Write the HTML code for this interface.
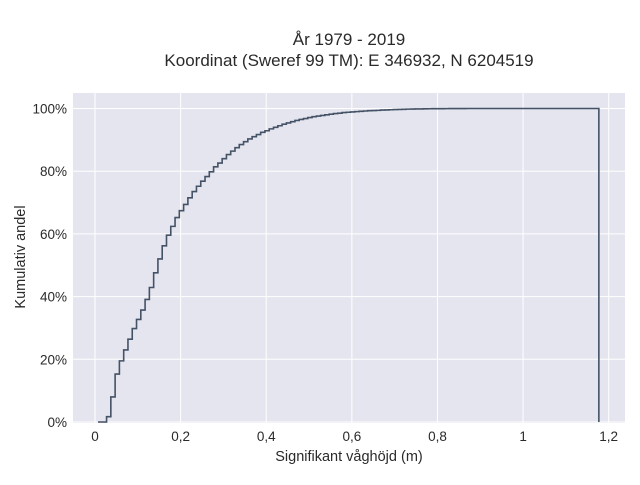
<!DOCTYPE html>
<html><head><meta charset="utf-8"><style>
body{margin:0;background:#fff;font-family:"Liberation Sans",sans-serif;}
svg text{font-family:"Liberation Sans",sans-serif;fill:#2a2a2a;}
</style></head><body>
<svg width="640" height="480" xmlns="http://www.w3.org/2000/svg">
<text x="349" y="45" text-anchor="middle" font-size="17">År 1979 - 2019</text>
<text x="349" y="66" text-anchor="middle" font-size="17">Koordinat (Sweref 99 TM): E 346932, N 6204519</text>
<rect x="73" y="93" width="552" height="330" fill="#e5e5ef"/>
<g id="grid"></g>
<g id="ticks"></g>
<path id="cdf" fill="none" stroke="#445266" stroke-width="1.6"/>
<text x="349" y="461" text-anchor="middle" font-size="14.5">Signifikant våghöjd (m)</text>
<text transform="translate(25,257) rotate(-90)" text-anchor="middle" font-size="14.5">Kumulativ andel</text>
</svg>
<script>
const binStart = 0.007;
const binWidth = 0.01;
const cumValues = [0,0,1.7,8,15.3,19.5,23,26.4,29.8,32.7,35.7,39.1,42.9,47.6,52,56.2,59.6,62.4,65.2,67.4,69.4,71.5,73.5,75.2,76.8,78.3,79.8,81.4,82.6,84,85.3,86.4,87.5,88.5,89.4,90.3,91,91.7,92.4,92.9,93.5,94,94.5,95,95.4,
95.8,96.2,96.5,96.8,97.1,97.4,97.6,97.8,98,98.2,98.4,98.5,98.7,98.8,98.9,99,99.1,99.2,99.3,99.35,99.4,99.5,99.55,99.6,99.65,99.7,99.75,99.8,99.82,99.85,99.87,99.9,
99.92,99.93,99.94,99.95,99.96,99.97,99.98,99.98,99.99,
100,100,100,100,100,100,100,100,100,100,100,100,100,100,100,100,100,100,100,100,100,100,100,100,100,100,100,100,100,100,100];
const xTicks = [0,0.2,0.4,0.6,0.8,1,1.2];
const xTickLabels = ["0","0,2","0,4","0,6","0,8","1","1,2"];
const yTicks = [0,20,40,60,80,100];
const yTickLabels = ["0%","20%","40%","60%","80%","100%"];
const NS="http://www.w3.org/2000/svg";
function xs(v){return 95+v*(608.7-95)/1.2;}
function ys(v){return 422-v*(422-108.5)/100;}
const grid=document.getElementById('grid'), ticks=document.getElementById('ticks');
xTicks.forEach((t,i)=>{
  const l=document.createElementNS(NS,'line');
  
  
  l.setAttribute('x1',xs(t));l.setAttribute('x2',xs(t));l.setAttribute('y1',93);l.setAttribute('y2',423);
  l.setAttribute('stroke','#fff');l.setAttribute('stroke-width','1');grid.appendChild(l);
  const tx=document.createElementNS(NS,'text');
  
  
  tx.setAttribute('x',xs(t));tx.setAttribute('y',441);tx.setAttribute('text-anchor','middle');tx.setAttribute('font-size','13.5');
  tx.textContent=xTickLabels[i];ticks.appendChild(tx);
});
yTicks.forEach((t,i)=>{
  const l=document.createElementNS(NS,'line');
  
  
  l.setAttribute('x1',73);l.setAttribute('x2',625);l.setAttribute('y1',ys(t));l.setAttribute('y2',ys(t));
  l.setAttribute('stroke','#fff');l.setAttribute('stroke-width','1');grid.appendChild(l);
  const tx=document.createElementNS(NS,'text');
  
  
  tx.setAttribute('x',67);tx.setAttribute('y',ys(t)+5);tx.setAttribute('text-anchor','end');tx.setAttribute('font-size','13.5');
  tx.textContent=yTickLabels[i];ticks.appendChild(tx);
});
let d='M'+xs(binStart)+','+ys(0);
cumValues.forEach((v,i)=>{
  const x0=xs(binStart+i*binWidth), x1=xs(binStart+(i+1)*binWidth);
  d+=' L'+x0+','+ys(v)+' L'+x1+','+ys(v);
});
d+=' L'+xs(binStart+cumValues.length*binWidth)+','+ys(0);
document.getElementById('cdf').setAttribute('d',d);
</script>
</body></html>
